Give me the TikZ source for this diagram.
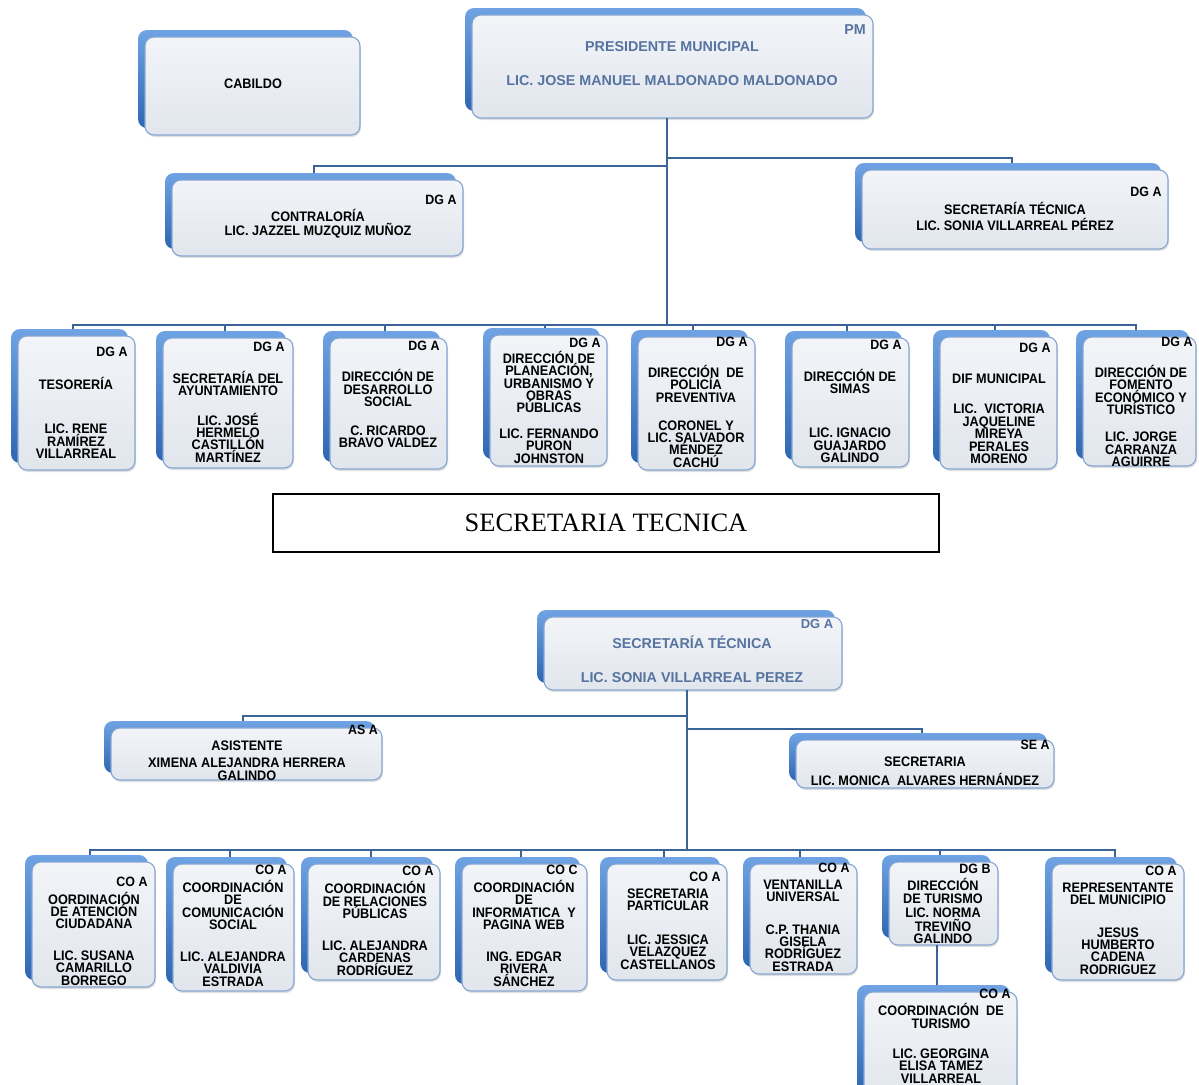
\documentclass[tikz,border=0pt]{standalone}
\usepackage{fontspec}
\setmainfont{Liberation Sans}
\newfontfamily\narx[FakeStretch=0.92]{Liberation Sans}
\newfontfamily\serifx{Liberation Serif}
\usetikzlibrary{shadows,calc}
\definecolor{connc}{HTML}{3A6398}
\definecolor{bordc}{HTML}{85A6D2}
\definecolor{backtop}{HTML}{6FA3E3}
\definecolor{backbot}{HTML}{2E66B2}
\definecolor{fronttop}{HTML}{F2F4F8}
\definecolor{frontbot}{HTML}{E1E6ED}
\definecolor{bluet}{HTML}{56749F}
\tikzset{
  conn/.style={draw=connc, line width=2pt},
  backsh/.style={top color=backtop, bottom color=backbot, rounded corners=9pt},
  frontbox/.style={draw=bordc, line width=1.1pt, rounded corners=9pt, top color=fronttop, bottom color=frontbot,
     inner sep=0pt, outer sep=0pt, drop shadow={shadow xshift=1pt, shadow yshift=-2pt, opacity=0.25}},
  txt/.style={font=\narx\fontsize{13.8}{12.4}\selectfont\bfseries, align=center, inner sep=0pt},
  lbl/.style={font=\narx\fontsize{13.5}{13}\selectfont\bfseries, inner sep=0pt},
  blt/.style={text=bluet, font=\fontsize{14.3}{15}\selectfont\bfseries, inner sep=0pt},
}
\newcommand{\obox}[5]{%
  \shade[backsh] (#2-7,#3-7) rectangle (#4-7,#5-7);
  \node[frontbox, minimum width={#4-#2}, minimum height={#5-#3}] (#1) at ({(#2+#4)/2},{(#3+#5)/2}) {};
}
\begin{document}
\begin{tikzpicture}[x=1pt,y=-1pt]
\useasboundingbox (0,0) rectangle (1199,1084);
\clip (0,0) rectangle (1199,1084);
\fill[white] (0,0) rectangle (1199,1084);

% ---------- top chart ----------
\obox{cab}{145}{37}{360}{135}
\node[txt] (cabt) at (253,84) {CABILDO};

\obox{pm}{472}{15}{873}{118}
\node[blt] (pml) at (855,30) {PM};
\node[blt] (pmt) at (672,47) {PRESIDENTE MUNICIPAL};
\node[blt] (pmn) at (672,81) {LIC. JOSE MANUEL MALDONADO MALDONADO};

\obox{con}{172}{180}{463}{256}
\node[lbl] (conl) at (441,200) {DG A};
\node[txt] (cont) at (318,215) {CONTRALORÍA};
\node[txt] (conn) at (318,231) {LIC. JAZZEL MUZQUIZ MUÑOZ};

\obox{st}{862}{170}{1168}{249}
\node[lbl] (stl) at (1146,192) {DG A};
\node[txt] (stt) at (1015,208) {SECRETARÍA TÉCNICA};
\node[txt] (stn) at (1015,224) {LIC. SONIA VILLARREAL PÉREZ};

\coordinate (busA) at (0,166);
\coordinate (busB) at (0,158);
\coordinate (bus1) at (0,325);
\coordinate (pmd) at ([xshift=-6pt]pm.south);
\draw[conn] (pmd) -- (pmd |- bus1);
\draw[conn] ([xshift=-3.5pt,yshift=7pt]con.north) |- (pmd |- busA);
\draw[conn] ([xshift=-3.5pt,yshift=7pt]st.north) |- (pmd |- busB);

\obox{r1}{18}{336}{135}{470}
\node[lbl] (r1l) at (112,352) {DG A};
\node[txt] (r1t) at (76,383) {TESORERÍA};
\node[txt] (r1n) at (76,441.5) {LIC. RENE\\RAMÍREZ\\VILLARREAL};

\obox{r2}{163}{338}{293}{468}
\node[lbl] (r2l) at (269,347) {DG A};
\node[txt] (r2t) at (228,383.5) {SECRETARÍA DEL\\AYUNTAMIENTO};
\node[txt] (r2n) at (228,437.5) {LIC. JOSÉ\\HERMELO\\CASTILLÓN\\MARTÍNEZ};

\obox{r3}{330}{338}{447}{469}
\node[lbl] (r3l) at (424,346) {DG A};
\node[txt] (r3t) at (388,388) {DIRECCIÓN DE\\DESARROLLO\\SOCIAL};
\node[txt] (r3n) at (388,436.5) {C. RICARDO\\BRAVO VALDEZ};

\obox{r4}{490}{335}{607}{466}
\node[lbl] (r4l) at (585,343) {DG A};
\node[txt] (r4t) at (549,382) {DIRECCIÓN DE\\PLANEACIÓN,\\URBANISMO Y\\OBRAS\\PÚBLICAS};
\node[txt] (r4n) at (549,446) {LIC. FERNANDO\\PURON\\JOHNSTON};

\obox{r5}{638}{337}{755}{470}
\node[lbl] (r5l) at (732,342) {DG A};
\node[txt] (r5t) at (696,383.5) {DIRECCIÓN\ \ DE\\POLICÍA\\PREVENTIVA};
\node[txt] (r5n) at (696,444) {CORONEL Y\\LIC. SALVADOR\\MÉNDEZ\\CACHÚ};

\obox{r6}{792}{338}{909}{467}
\node[lbl] (r6l) at (886,345) {DG A};
\node[txt] (r6t) at (850,381.5) {DIRECCIÓN DE\\SIMAS};
\node[txt] (r6n) at (850,445.5) {LIC. IGNACIO\\GUAJARDO\\GALINDO};

\obox{r7}{940}{337}{1057}{469}
\node[lbl] (r7l) at (1035,348) {DG A};
\node[txt] (r7t) at (999,379) {DIF MUNICIPAL};
\node[txt] (r7n) at (999,434) {LIC.\ \ VICTORIA\\JAQUELINE\\MIREYA\\PERALES\\MORENO};

\obox{r8}{1083}{337}{1196}{466}
\node[lbl] (r8l) at (1177,342) {DG A};
\node[txt] (r8t) at (1141,390) {DIRECCIÓN DE\\FOMENTO\\ECONÓMICO Y\\TURÍSTICO};
\node[txt] (r8n) at (1141,449.5) {LIC. JORGE\\CARRANZA\\AGUIRRE};

\foreach \r in {r1,r2,r3,r4,r5,r6,r7,r8}{
  \draw[conn] ([xshift=-3.5pt,yshift=7pt]\r.north) |- (pmd |- bus1);
}

% ---------- title box ----------
\node[draw=black, line width=1.3pt, minimum width=666, minimum height=58, inner sep=0pt,
      font=\serifx\fontsize{26.5}{28}\selectfont] (sect) at (606,523) {SECRETARIA TECNICA};

% ---------- bottom chart ----------
\obox{st2}{544}{617}{842}{690}
\node[blt, font=\fontsize{13}{13}\selectfont\bfseries] (st2l) at (817,624) {DG A};
\node[blt] (st2t) at (692,642) {SECRETARÍA TÉCNICA};
\node[blt] (st2n) at (692,678) {LIC. SONIA VILLARREAL PEREZ};

\obox{asis}{111}{728}{382}{780}
\node[lbl] (asisl) at (363,730) {AS A};
\node[txt] (asist) at (247,746) {ASISTENTE};
\node[txt] (asisn) at (247,769.5) {XIMENA ALEJANDRA HERRERA\\GALINDO};

\obox{secr}{796}{740}{1054}{788}
\node[lbl] (secrl) at (1035,745) {SE A};
\node[txt] (secrt) at (925,762) {SECRETARIA};
\node[txt] (secrn) at (925,779) {LIC. MONICA\ \ ALVARES HERNÁNDEZ};

\coordinate (busC) at (0,716);
\coordinate (busD) at (0,729);
\coordinate (bus2) at (0,850);
\coordinate (st2d) at ([xshift=-6pt]st2.south);
\draw[conn] (st2d) -- (st2d |- bus2);
\draw[conn] ([xshift=-3.5pt,yshift=7pt]asis.north) |- (st2d |- busC);
\draw[conn] ([xshift=-3.5pt,yshift=7pt]secr.north) |- (st2d |- busD);

\obox{b1}{32}{862}{155}{987}
\node[lbl] (b1l) at (132,882) {CO A};
\node[txt] (b1t) at (94,910.5) {OORDINACIÓN\\DE ATENCIÓN\\CIUDADANA};
\node[txt] (b1n) at (94,968) {LIC. SUSANA\\CAMARILLO\\BORREGO};

\obox{b2}{173}{864}{294}{991}
\node[lbl] (b2l) at (271,870) {CO A};
\node[txt] (b2t) at (233,905) {COORDINACIÓN\\DE\\COMUNICACIÓN\\SOCIAL};
\node[txt] (b2n) at (233,969) {LIC. ALEJANDRA\\VALDIVIA\\ESTRADA};

\obox{b3}{308}{864}{440}{980}
\node[lbl] (b3l) at (418,871) {CO A};
\node[txt] (b3t) at (375,900) {COORDINACIÓN\\DE RELACIONES\\PÚBLICAS};
\node[txt] (b3n) at (375,958) {LIC. ALEJANDRA\\CARDENAS\\RODRÍGUEZ};

\obox{b4}{462}{864}{587}{991}
\node[lbl] (b4l) at (562,870) {CO C};
\node[txt] (b4t) at (524,905) {COORDINACIÓN\\DE\\INFORMATICA\ \ Y\\PAGINA WEB};
\node[txt] (b4n) at (524,969) {ING. EDGAR\\RIVERA\\SÁNCHEZ};

\obox{b5}{607}{864}{727}{980}
\node[lbl] (b5l) at (705,877) {CO A};
\node[txt] (b5t) at (668,900) {SECRETARIA\\PARTICULAR};
\node[txt] (b5n) at (668,952) {LIC. JESSICA\\VELAZQUEZ\\CASTELLANOS};

\obox{b6}{750}{864}{857}{974}
\node[lbl] (b6l) at (834,868) {CO A};
\node[txt] (b6t) at (803,891) {VENTANILLA\\UNIVERSAL};
\node[txt] (b6n) at (803,948) {C.P. THANIA\\GISELA\\RODRÍGUEZ\\ESTRADA};

\obox{b7}{889}{862}{998}{945}
\node[lbl] (b7l) at (975,869) {DG B};
\node[txt] (b7t) at (943,891) {DIRECCIÓN\\DE TURISMO};
\node[txt] (b7n) at (943,926) {LIC. NORMA\\TREVIÑO\\GALINDO};

\obox{b8}{1052}{864}{1184}{980}
\node[lbl] (b8l) at (1161,871) {CO A};
\node[txt] (b8t) at (1118,894) {REPRESENTANTE\\DEL MUNICIPIO};
\node[txt] (b8n) at (1118,951) {JESUS\\HUMBERTO\\CADENA\\RODRIGUEZ};

\obox{b9}{864}{992}{1017}{1100}
\node[lbl] (b9l) at (995,994) {CO A};
\node[txt] (b9t) at (941,1016) {COORDINACIÓN\ \ DE\\TURISMO};
\node[txt] (b9n) at (941,1066) {LIC. GEORGINA\\ELISA TAMEZ\\VILLARREAL};

\foreach \b in {b1,b2,b3,b4,b5,b6,b7,b8}{
  \draw[conn] ([xshift=-3.5pt,yshift=7pt]\b.north) |- (st2d |- bus2);
}
\draw[conn] ([xshift=-3.5pt,yshift=7pt]b9.north) -- ([xshift=-3.5pt]b9.north |- b7.south);
\end{tikzpicture}
\end{document}
